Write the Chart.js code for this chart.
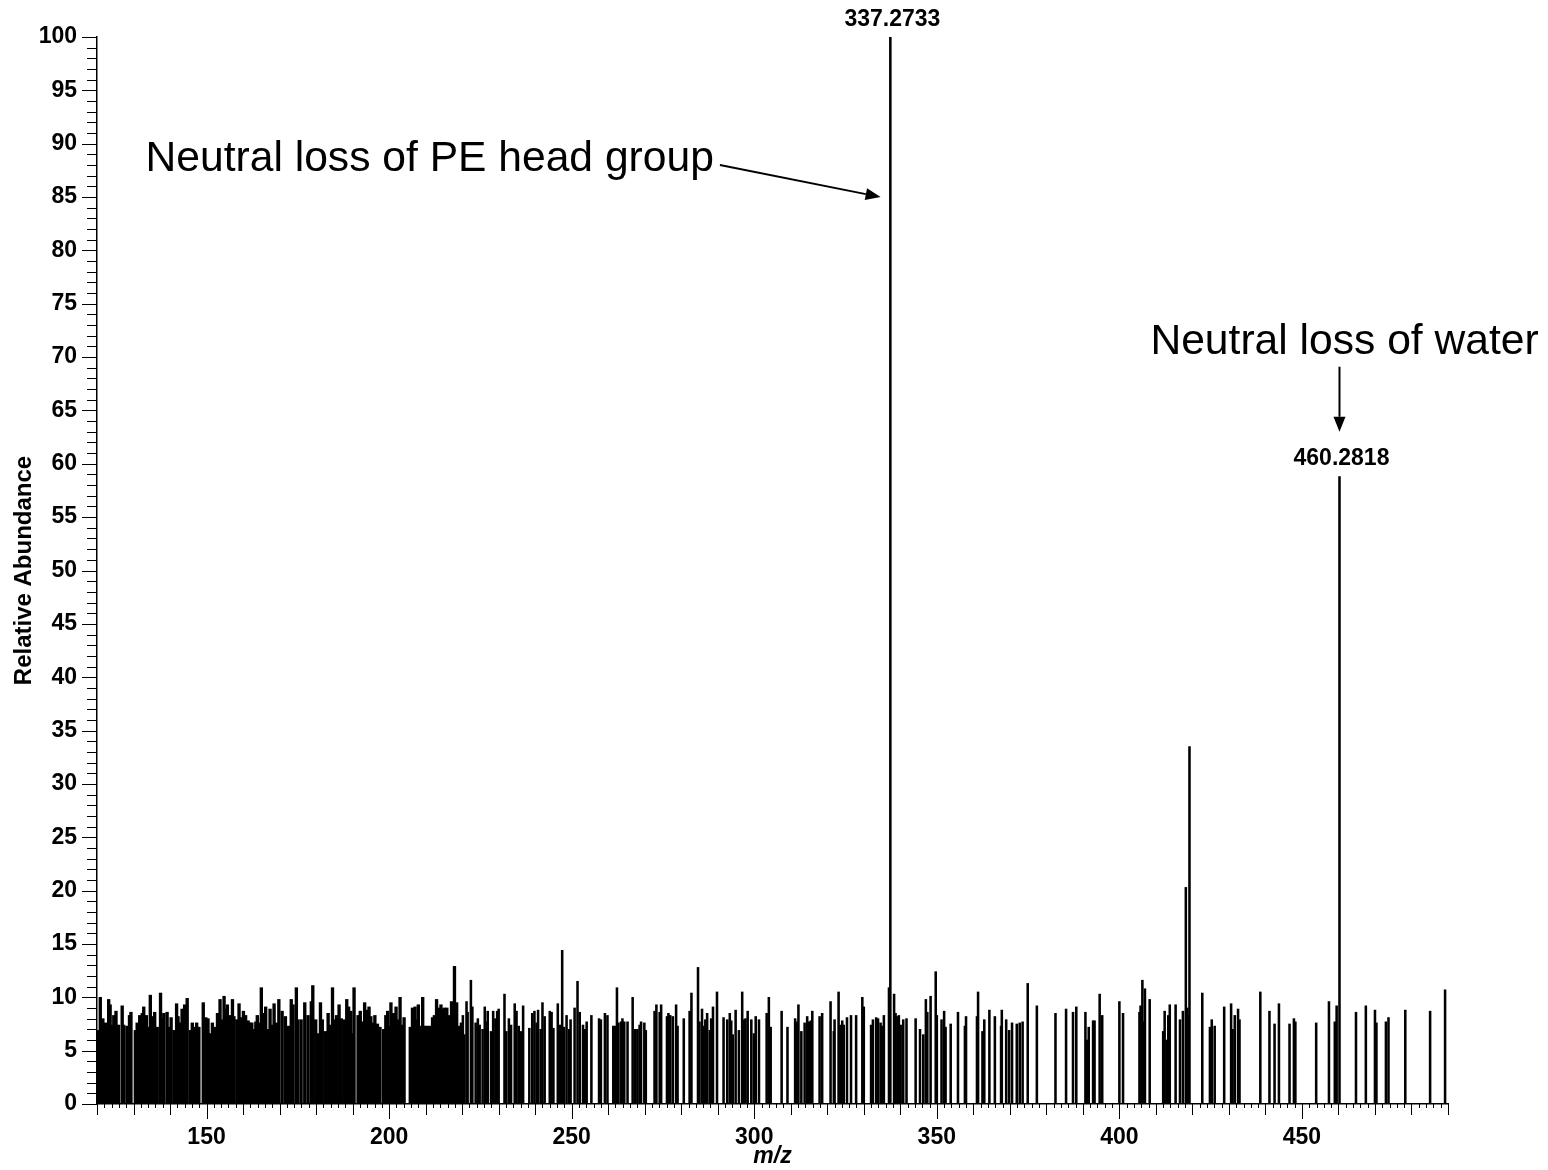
<!DOCTYPE html>
<html>
<head>
<meta charset="utf-8">
<title>MS/MS spectrum</title>
<script src="https://cdn.jsdelivr.net/npm/chart.js@4.4.1/dist/chart.umd.min.js"></script>
<style>
  html, body { margin: 0; padding: 0; background: #fff; }
  #wrap { width: 1548px; height: 1170px; position: relative; }
</style>
</head>
<body>
<div id="wrap"><canvas id="spectrum"></canvas></div>
<script>
// m/z of each centroid peak
const mz = [
  120.3, 120.9, 121.6, 122.3, 123.2, 123.6, 124.1, 124.6, 125.2, 125.9, 126.9, 127.3, 128.2, 128.9, 129.3,
  130.5, 131.0, 131.7, 132.4, 132.8, 133.5, 133.9, 134.6, 135.1, 135.8, 136.5, 137.4, 137.8, 138.3, 139.2,
  139.9, 140.3, 141.1, 141.8, 142.2, 142.7, 143.3, 144.0, 144.7, 145.6, 146.1, 146.6, 147.3, 147.9, 149.1,
  149.8, 150.4, 151.1, 151.6, 152.2, 153.0, 153.7, 154.1, 154.8, 155.3, 155.7, 156.4, 157.1, 157.5, 158.3,
  158.9, 159.6, 160.1, 160.7, 161.4, 161.9, 162.4, 163.0, 163.5, 163.9, 164.4, 165.0, 165.8, 166.2, 166.7,
  167.4, 168.1, 168.5, 169.2,
  169.8, 170.7, 171.6, 172.5, 173.2, 173.7, 174.6, 175.0, 175.9, 176.9, 177.8, 178.7, 179.1, 179.9, 180.5,
  181.2, 181.7, 182.6, 183.3, 184.0, 184.5, 185.1, 185.6, 186.3, 186.9, 187.7, 188.4, 188.9, 189.5, 189.9,
  190.4, 191.5, 192.1, 192.7, 193.3, 193.9, 194.5, 195.0, 195.4, 196.1, 196.8, 197.5, 198.5, 199.1, 199.6,
  200.0, 200.5, 201.2, 201.9, 202.3, 203.0, 203.5, 204.1, 205.8, 206.4, 207.1, 207.5, 208.0, 208.7, 209.2,
  209.8, 210.5, 211.3, 211.9, 212.4, 213.0, 213.6, 214.2, 214.7, 215.1, 215.8, 216.3, 217.1, 217.9, 218.5,
  219.0, 219.8, 220.2, 220.6, 221.2, 221.5, 222.4, 222.8, 223.7, 224.3, 224.8, 225.6, 226.2, 226.6, 227.0,
  227.9, 228.5, 229.1, 229.6, 230.0, 231.6, 232.1, 232.8, 233.4, 234.4, 234.9, 235.5, 236.2, 236.7, 238.4,
  239.2, 239.8, 240.4, 240.8, 241.5, 242.0, 242.6, 244.0, 244.5, 245.0, 246.2, 246.8, 247.4, 247.9, 248.6,
  249.3, 249.7, 250.8, 251.6, 252.2, 253.1, 253.7, 254.1, 255.4, 257.5, 258.0, 259.1, 259.8, 261.4, 261.8,
  262.4, 262.8, 263.5, 263.9, 264.4, 265.3, 266.7, 267.4, 268.0,
  268.6, 269.0, 269.9, 270.3, 272.7, 273.2, 274.1, 274.5, 276.1, 276.5, 277.0, 277.7, 278.6, 279.0, 280.7,
  282.3, 282.8, 284.6, 285.0, 285.7, 286.2, 286.6, 287.1, 287.8, 288.2, 288.7, 289.8, 291.6, 292.6, 293.3,
  293.7, 294.1, 294.9, 295.8, 296.7, 297.1, 297.6, 298.2, 299.2, 299.9, 300.4, 301.3, 303.4, 304.0, 304.5,
  307.5, 309.1, 311.2, 311.6, 312.1, 312.9, 313.8, 314.5, 315.0, 315.5, 315.9, 317.9,
  318.6, 320.9, 321.8, 322.0, 323.1, 323.6, 324.1, 324.5, 325.4, 326.5, 327.9, 329.6, 330.0, 332.0, 332.5,
  333.4, 333.9, 334.6, 335.0, 335.5, 336.9, 337.2733, 338.3, 338.7, 339.2, 339.6, 340.1, 340.8, 341.7, 344.2,
  345.4, 346.3, 347.0, 347.4, 348.3, 349.7, 350.0, 351.3, 352.0, 352.4, 353.8, 355.8, 357.7, 358.0, 361.0,
  361.3, 362.5, 363.0, 364.4, 365.9, 367.6,
  367.8, 369.0, 369.8, 370.6, 371.9, 372.7, 373.5, 374.9, 377.4, 382.5, 385.4, 387.3, 388.2, 390.7, 391.2,
  391.6, 392.8, 393.2, 394.6, 395.3, 400.0, 401.0, 405.5, 405.8, 406.3, 406.5, 407.0, 408.3, 412.0, 412.4,
  413.0, 413.4, 413.8, 415.4, 416.6,
  417.4, 418.2, 418.6, 418.9, 419.2, 422.7, 424.8, 425.3, 426.1, 428.7, 430.6, 431.0, 431.6, 432.5, 432.9,
  438.6, 441.1, 442.5, 443.7, 446.6, 447.8, 448.2, 453.9, 457.4, 459.0, 459.5, 460.2818, 464.8, 467.5, 470.0,
  470.4, 473.0, 473.7, 478.3, 485.1, 489.2
];

// relative abundance (%) of each peak, same order as mz
const abundance = [
  6.9, 10.0, 8.0, 7.6, 9.8, 9.3, 7.4, 8.3, 8.7, 7.4, 9.2, 7.4, 7.3, 8.3, 8.6,
  6.9, 7.6, 8.3, 8.5, 9.1, 8.3, 7.2, 10.2, 8.2, 8.6, 7.2, 10.4, 8.0, 8.5, 8.6,
  7.2, 8.1, 6.9, 9.4, 8.2, 7.6, 8.9, 9.3, 9.9, 6.9, 7.6, 7.2, 7.6, 7.2, 9.5,
  8.1, 8.0, 6.6, 7.6, 7.2, 8.5, 9.8, 7.9, 10.1, 8.9, 9.3, 8.3, 9.8, 8.2, 7.9,
  9.4, 8.1, 8.7, 8.3, 7.8, 7.6, 7.6, 7.0, 7.7, 8.3, 7.6, 10.9, 8.5, 9.1, 7.0,
  8.9, 7.4, 9.4, 7.6,
  9.8, 8.7, 8.2, 7.3, 9.8, 9.3, 10.9, 7.9, 7.9, 9.5, 8.3, 9.6, 11.1, 7.9, 6.6,
  9.5, 7.9, 6.8, 8.5, 7.4, 10.9, 7.9, 8.3, 9.3, 8.0, 7.9, 9.8, 9.1, 8.7, 6.6,
  10.9, 8.3, 8.7, 7.7, 9.5, 8.8, 9.1, 8.2, 7.6, 8.3, 7.5, 7.2, 7.0, 8.3, 8.7,
  7.3, 9.5, 8.5, 9.1, 7.9, 10.0, 7.4, 8.1, 7.2, 9.0, 9.1, 7.9, 9.3, 7.3, 10.0,
  7.3, 7.3, 7.3, 8.1, 8.3, 9.8, 9.0, 9.3, 8.9, 9.0, 9.0, 8.3, 9.6, 12.9, 9.5,
  7.3, 7.6, 8.3, 6.5, 9.6, 8.6, 11.6, 9.1, 7.6, 8.0, 7.4, 7.0, 9.1, 7.7, 8.7,
  6.8, 8.7, 8.0, 8.7, 8.9, 10.3, 6.8, 8.0, 7.4, 9.4, 8.7, 7.3, 6.8, 9.2, 7.1,
  8.5, 8.7, 7.6, 8.8, 7.0, 9.5, 8.2, 8.7, 8.6, 7.1, 9.4, 7.4, 14.4, 7.2, 8.3,
  7.0, 7.9, 9.0, 11.5, 8.6, 7.4, 7.0, 7.7, 8.3, 8.0, 7.9, 8.5, 8.3, 7.3, 7.3,
  10.9, 7.6, 7.7, 8.0, 7.7, 7.7, 10.0, 7.0, 7.0,
  7.4, 7.7, 7.6, 6.9, 8.7, 9.3, 8.6, 9.3, 8.2, 8.5, 8.3, 8.2, 9.3, 7.3, 8.0,
  8.7, 10.4, 12.8, 7.7, 8.9, 7.3, 7.9, 8.5, 6.9, 8.0, 9.1, 10.5, 8.1, 7.9, 8.5,
  7.8, 6.5, 8.8, 6.9, 10.5, 7.9, 8.0, 8.7, 7.9, 6.6, 8.2, 7.9, 8.5, 10.0, 7.2,
  8.7, 7.2, 8.0, 7.7, 9.3, 6.8, 7.6, 8.2, 7.7, 7.8, 8.7, 8.2,
  8.5, 9.6, 6.8, 7.9, 10.5, 7.4, 7.8, 7.4, 8.1, 8.3, 8.3, 10.0, 9.1, 7.4, 7.9,
  8.1, 8.0, 7.6, 7.3, 8.3, 10.9, 100, 10.3, 8.5, 8.2, 8.3, 7.4, 7.9, 8.0, 8.0,
  7.0, 6.5, 9.8, 8.6, 10.1, 12.4, 8.3, 7.9, 8.7, 7.2, 7.5, 8.6, 7.3, 8.2, 8.2,
  10.5, 6.8, 7.9, 8.8, 8.2, 7.3,
  8.8, 7.9, 6.9, 7.6, 7.5, 7.6, 7.7, 11.3, 9.2, 8.5, 8.9, 8.6, 9.1, 8.6, 6.0,
  7.2, 7.8, 7.8, 10.3, 8.3, 9.6, 8.5, 8.6, 9.2, 11.6, 7.7, 10.8, 9.8, 6.8, 8.7,
  6.0, 8.3, 9.3, 9.3, 7.9,
  8.7, 20.3, 9.0, 8.3, 33.5, 10.4, 7.2, 7.9, 7.3, 9.1, 9.4, 7.0, 8.3, 8.9, 7.9,
  10.5, 8.7, 7.5, 9.4, 7.5, 8.0, 7.7, 7.6, 9.6, 7.7, 9.2, 58.8, 8.6, 9.2, 8.8,
  7.6, 7.7, 8.1, 8.8, 8.7, 10.7
];

// axis labels
const xTickLabels = [150, 200, 250, 300, 350, 400, 450];
const yTickLabels = [0, 5, 10, 15, 20, 25, 30, 35, 40, 45, 50, 55, 60, 65, 70, 75, 80, 85, 90, 95, 100];

// peaks that get an m/z label above them
const labelledPeaks = [337.2733, 460.2818];

const FONT = "'Liberation Sans', Arial, Helvetica, sans-serif";

// the low-mass end is crowded, so its sticks are drawn a bit wider
const points = mz.map((m, i) => ({ x: m, y: abundance[i] }));
const lowMass = points.filter(p => p.x < 220);
const highMass = points.filter(p => p.x >= 220);

// minor/major tick marks for both axes plus the annotations
const spectrumDecor = {
  id: 'spectrumDecor',
  afterDraw(chart) {
    const ctx = chart.ctx;
    const x = chart.scales.x;
    const y = chart.scales.y;
    const area = chart.chartArea;
    ctx.save();
    ctx.strokeStyle = '#000';
    ctx.lineWidth = 1;

    // x ticks: every 2, longer every 10, longest every 50
    ctx.beginPath();
    for (let v = x.min; v <= x.max; v += 2) {
      const px = Math.round(x.getPixelForValue(v)) + 0.5;
      const len = v % 50 === 0 ? 15 : (v % 10 === 0 ? 11 : 4);
      ctx.moveTo(px, area.bottom);
      ctx.lineTo(px, area.bottom + len);
    }
    // y ticks: every 1, longer every 5
    for (let v = y.min; v <= y.max; v += 1) {
      const py = Math.round(y.getPixelForValue(v)) + 0.5;
      const len = v % 5 === 0 ? 15 : 10;
      ctx.moveTo(area.left, py);
      ctx.lineTo(area.left - len, py);
    }
    ctx.stroke();

    // peak labels
    ctx.fillStyle = '#000';
    ctx.font = 'bold 23px ' + FONT;
    ctx.textAlign = 'center';
    ctx.textBaseline = 'bottom';
    labelledPeaks.forEach(p => {
      const i = mz.indexOf(p);
      const px = x.getPixelForValue(p);
      const py = y.getPixelForValue(abundance[i]);
      ctx.fillText(p.toFixed(4), px + 2, py - 6);
    });

    // annotation texts
    ctx.font = '42.6px ' + FONT;
    ctx.textAlign = 'left';
    ctx.textBaseline = 'middle';
    ctx.fillText('Neutral loss of PE head group', x.getPixelForValue(133.3), y.getPixelForValue(88.5));
    ctx.fillText('Neutral loss of water', x.getPixelForValue(408.5), y.getPixelForValue(71.4));

    // arrows
    drawArrow(ctx, x.getPixelForValue(290.6), y.getPixelForValue(88.0),
                   x.getPixelForValue(334.6), y.getPixelForValue(85.0));
    drawArrow(ctx, x.getPixelForValue(460.2818), y.getPixelForValue(69.1),
                   x.getPixelForValue(460.2818), y.getPixelForValue(63.0));
    ctx.restore();
  }
};

function drawArrow(ctx, x0, y0, x1, y1) {
  const ang = Math.atan2(y1 - y0, x1 - x0);
  const head = 15, half = 6;
  const bx = x1 - head * Math.cos(ang);
  const by = y1 - head * Math.sin(ang);
  ctx.beginPath();
  ctx.lineWidth = 2;
  ctx.moveTo(x0, y0);
  ctx.lineTo(bx, by);
  ctx.stroke();
  ctx.beginPath();
  ctx.moveTo(x1, y1);
  ctx.lineTo(bx - half * Math.sin(ang), by + half * Math.cos(ang));
  ctx.lineTo(bx + half * Math.sin(ang), by - half * Math.cos(ang));
  ctx.closePath();
  ctx.fill();
}

const tickFont = { family: FONT, size: 23, weight: 'bold' };

new Chart(document.getElementById('spectrum'), {
  type: 'bar',
  data: {
    datasets: [{
      data: lowMass,
      backgroundColor: '#000',
      borderWidth: 0,
      barThickness: 2.7,
      grouped: false
    }, {
      data: highMass,
      backgroundColor: '#000',
      borderWidth: 0,
      barThickness: 1.9,
      grouped: false
    }]
  },
  options: {
    responsive: true,
    maintainAspectRatio: false,
    animation: false,
    layout: { padding: { top: 37, right: 100, left: 0, bottom: 0 } },
    plugins: { legend: { display: false }, tooltip: { enabled: false } },
    scales: {
      x: {
        type: 'linear',
        min: 120,
        max: 490,
        offset: false,
        afterFit: s => { s.height = 66; },
        afterBuildTicks: s => { s.ticks = xTickLabels.map(v => ({ value: v })); },
        grid: { display: false, drawTicks: true, tickLength: 15 },
        border: { display: true, color: '#000', width: 1.5 },
        ticks: { font: tickFont, color: '#000', padding: 5, maxRotation: 0, autoSkip: false },
        title: {
          display: true, text: 'm/z', color: '#000',
          font: { family: FONT, size: 23, weight: 'bold', style: 'italic' },
          padding: { top: 0, bottom: 0 }
        }
      },
      y: {
        min: 0,
        max: 100,
        afterFit: s => { s.width = 97; },
        afterBuildTicks: s => { s.ticks = yTickLabels.map(v => ({ value: v })); },
        grid: { display: false, drawTicks: true, tickLength: 15 },
        border: { display: true, color: '#000', width: 1.5 },
        ticks: { font: tickFont, color: '#000', padding: 5, autoSkip: false },
        title: {
          display: true, text: 'Relative Abundance', color: '#000',
          font: { family: FONT, size: 24, weight: 'bold' },
          padding: { top: 10, bottom: 0 }
        }
      }
    }
  },
  plugins: [spectrumDecor]
});
</script>
</body>
</html>
